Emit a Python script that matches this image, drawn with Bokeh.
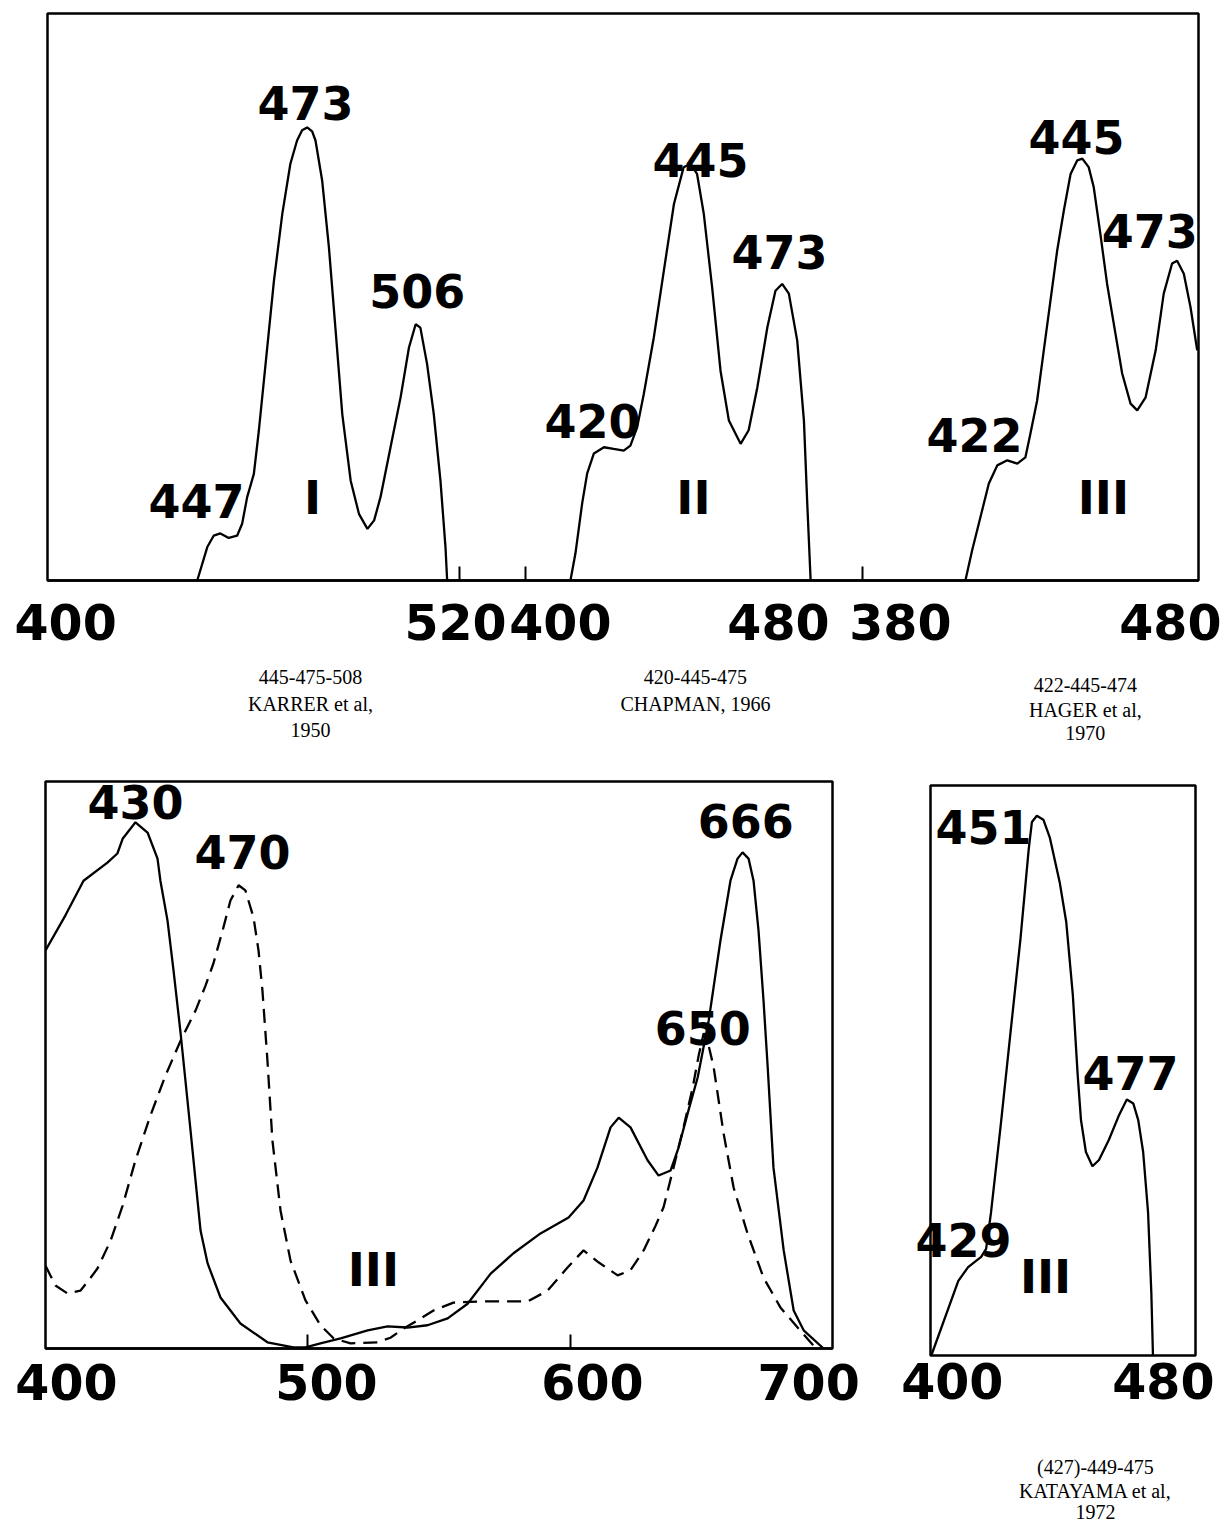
from bokeh.plotting import figure
from bokeh.models import Range1d, FixedTicker, Label, BoxAnnotation
from bokeh.layouts import column, row
from bokeh.core.properties import value
from bokeh.embed import file_html
from bokeh.resources import INLINE

# ---------------- DATA ----------------
# Top panel: three spectra (wavelength nm, relative absorbance)
s1_nm = [440.7, 443.7, 445.6, 447.6, 450.1, 452.6, 454.1, 455.6, 457.6, 459.1, 461.1, 463.6, 466.1,
         468.5, 470.5, 472.0, 473.5, 475.0, 476.0, 478.0, 480.0, 482.0, 484.0, 486.5, 489.0, 491.5,
         493.5, 495.4, 498.4, 501.4, 503.9, 505.9, 507.3, 509.3, 511.3, 513.3, 514.8, 515.3]
s1_abs = [0.000, 0.059, 0.079, 0.083, 0.075, 0.079, 0.100, 0.147, 0.188, 0.265, 0.382, 0.529, 0.647,
          0.735, 0.776, 0.794, 0.799, 0.792, 0.776, 0.705, 0.588, 0.441, 0.293, 0.176, 0.117, 0.091,
          0.106, 0.147, 0.235, 0.323, 0.411, 0.452, 0.446, 0.382, 0.294, 0.176, 0.059, 0.000]

s2_nm = [409.8, 411.3, 413.3, 414.8, 416.8, 419.8, 422.7, 425.7, 427.7, 429.7, 431.7, 434.7, 437.7,
         440.7, 443.6, 445.6, 447.6, 449.6, 452.1, 454.6, 457.1, 460.6, 463.0, 465.6, 468.6, 471.0,
         473.0, 475.0, 477.5, 479.5, 480.5, 481.5]
s2_abs = [0.000, 0.048, 0.136, 0.189, 0.224, 0.235, 0.232, 0.229, 0.238, 0.270, 0.329, 0.429, 0.547,
          0.664, 0.729, 0.735, 0.717, 0.647, 0.517, 0.370, 0.282, 0.241, 0.265, 0.341, 0.447, 0.511,
          0.523, 0.506, 0.423, 0.282, 0.135, 0.000]

s3_nm = [410.6, 412.6, 415.1, 417.6, 420.1, 423.1, 426.1, 428.5, 430.0, 432.0, 434.0, 436.0, 438.0,
         440.0, 442.0, 444.0, 445.5, 447.4, 448.9, 450.9, 452.9, 455.4, 457.4, 459.9, 461.9, 464.4,
         467.4, 469.8, 472.3, 473.8, 475.8, 477.8, 479.8]
s3_abs = [0.000, 0.053, 0.112, 0.171, 0.203, 0.212, 0.206, 0.217, 0.259, 0.317, 0.406, 0.494, 0.582,
          0.653, 0.717, 0.741, 0.744, 0.729, 0.694, 0.611, 0.523, 0.435, 0.365, 0.312, 0.300, 0.323,
          0.406, 0.506, 0.559, 0.564, 0.541, 0.482, 0.406]

top_peak_text = [["447", "473", "506", "I"], ["420", "445", "473", "II"], ["422", "445", "473", "III"]]
top_tick_labels = ["400", "520", "400", "480", "380", "480"]
top_captions = [["445-475-508", "KARRER et al,", "1950"],
                ["420-445-475", "CHAPMAN, 1966"],
                ["422-445-474", "HAGER et al,", "1970"]]

# Bottom-left panel: solid and dashed spectra
bl_solid_nm = [400.0, 407.6, 414.5, 423.6, 427.4, 429.4, 434.3, 438.9, 442.7, 443.8, 446.5, 448.8,
               451.5, 455.3, 459.1, 461.8, 466.7, 474.3, 484.6, 494.5, 499.1, 504.8, 512.5, 522.8,
               530.4, 538.0, 545.6, 553.3, 560.9, 569.7, 578.4, 588.7, 599.4, 605.1, 610.4, 615.4,
               618.5, 623.0, 629.5, 633.7, 638.3, 641.3, 645.1, 648.6, 652.8, 657.3, 661.1, 663.8,
               665.7, 668.0, 669.9, 671.8, 673.7, 675.3, 677.5, 681.4, 685.2, 689.0, 696.6]
bl_solid_abs = [0.702, 0.764, 0.825, 0.857, 0.873, 0.899, 0.928, 0.910, 0.864, 0.825, 0.755, 0.667,
                0.556, 0.384, 0.208, 0.150, 0.090, 0.044, 0.011, 0.002, 0.002, 0.009, 0.018, 0.032,
                0.039, 0.037, 0.041, 0.053, 0.079, 0.132, 0.168, 0.203, 0.231, 0.261, 0.319, 0.390,
                0.407, 0.390, 0.332, 0.305, 0.314, 0.354, 0.420, 0.478, 0.578, 0.720, 0.825, 0.864,
                0.875, 0.864, 0.825, 0.737, 0.614, 0.496, 0.319, 0.173, 0.067, 0.032, 0.000]

bl_dash_nm = [400.0, 403.8, 408.4, 413.3, 416.4, 419.8, 424.8, 429.4, 434.3, 440.0, 445.7, 451.5,
              457.2, 461.0, 464.0, 467.5, 470.5, 473.6, 476.2, 479.3, 481.2, 482.7, 484.6, 486.5,
              489.6, 493.4, 499.1, 504.8, 509.8, 516.3, 526.6, 531.5, 536.5, 543.0, 547.9, 555.5,
              565.8, 583.8, 591.4, 599.0, 605.1, 610.8, 618.1, 623.0, 628.0, 632.6, 635.6, 639.4,
              643.2, 646.7, 649.0, 650.9, 652.8, 654.7, 658.5, 662.3, 667.6, 673.7, 680.2, 686.7,
              692.8, 696.6]
bl_dash_abs = [0.146, 0.111, 0.097, 0.102, 0.120, 0.141, 0.190, 0.252, 0.332, 0.411, 0.481, 0.543,
               0.596, 0.640, 0.679, 0.737, 0.790, 0.817, 0.808, 0.760, 0.702, 0.631, 0.508, 0.367,
               0.243, 0.155, 0.085, 0.041, 0.018, 0.009, 0.011, 0.019, 0.035, 0.053, 0.067, 0.081,
               0.083, 0.083, 0.102, 0.143, 0.173, 0.152, 0.129, 0.138, 0.173, 0.217, 0.249, 0.319,
               0.390, 0.460, 0.517, 0.556, 0.534, 0.496, 0.379, 0.284, 0.203, 0.125, 0.072, 0.037,
               0.005, 0.000]
bl_peak_text = ["430", "470", "666", "650", "III"]
bl_tick_labels = ["400", "500", "600", "700"]

# Bottom-right panel
br_nm = [392.3, 402.2, 405.8, 410.6, 412.4, 414.2, 417.8, 421.4, 425.0, 428.0, 429.2, 431.0, 433.4,
         435.8, 439.4, 441.8, 444.2, 446.0, 447.2, 449.0, 451.4, 453.8, 457.4, 461.0, 464.0, 466.4,
         468.2, 470.0, 471.8, 473.0, 473.6]
br_abs = [0.000, 0.131, 0.155, 0.173, 0.187, 0.251, 0.406, 0.569, 0.731, 0.887, 0.936, 0.947, 0.940,
          0.908, 0.830, 0.760, 0.633, 0.491, 0.413, 0.357, 0.332, 0.343, 0.378, 0.420, 0.449, 0.442,
          0.413, 0.357, 0.251, 0.110, 0.000]
br_peak_text = ["451", "477", "429", "III"]
br_tick_values = [400, 480]
br_caption = ["(427)-449-475", "KATAYAMA et al,", "1972"]

# ---------------- LAYOUT / STYLE CONSTANTS ----------------
OFFSETS = [0.0, 142.3, 259.4]          # horizontal shift of spectra I, II, III on shared top axis
top_ann_pos = [[(440.5, 0.141), (473.0, 0.843), (506.4, 0.511), (475.1, 0.146)],
               [(416.4, 0.282), (448.6, 0.741), (472.2, 0.580), (446.5, 0.146)],
               [(413.3, 0.256), (443.8, 0.783), (465.6, 0.617), (451.8, 0.145)]]
top_tick_pos = [(0, 401.4), (0, 517.8), (1, 406.8), (1, 471.9), (2, 391.2), (2, 471.8)]
top_mark_pos = [(0, 519.0), (1, 396.5), (2, 380.0)]
top_caption_x = [474.5, 589.4, 705.8]
top_caption_y = [[14, 41, 67], [14, 41], [22, 47, 70]]
bl_ann_pos = [(434.3, 0.963), (475.1, 0.875), (666.9, 0.931), (650.5, 0.566), (525.0, 0.138)]
bl_tick_pos = [408.0, 507.1, 608.5, 690.9]
bl_mark_pos = [500, 600]
br_ann_pos = [(411.4, 0.928), (465.4, 0.496), (404.1, 0.202), (434.2, 0.137)]
br_caption_x = 452.5
br_caption_y = [43, 67, 88]
BR_BOX = (392.0, 489.2)                 # wavelength span of the boxed right panel
BR_PXNM = 265 / (BR_BOX[1] - BR_BOX[0])  # px per nm
BR_PADL, BR_PADR, BR_PADV = 25, 5, 5     # room outside the box for labels that overhang it

NUM_FONT = "DejaVu Sans"
NUM_SIZE = "46px"
AXIS_SIZE = "49px"
SERIF = "Liberation Serif"
LW = 2.3


def panel(fw, fh, xr, yr, bl, br, bt, bb, axis=True, outline=True):
    p = figure(frame_width=fw, frame_height=fh, x_range=xr, y_range=yr,
               output_backend="svg", toolbar_location=None,
               x_axis_location="below" if axis else None, y_axis_location=None,
               min_border_left=bl, min_border_right=br, min_border_top=bt, min_border_bottom=bb)
    p.xgrid.visible = False
    p.ygrid.visible = False
    p.background_fill_color = "white"
    p.border_fill_color = "white"
    if outline:
        p.outline_line_color = "black"
        p.outline_line_width = 2.5
    else:
        p.outline_line_color = None
    return p


def style_axis(p, ticks, labels, marks, standoff):
    ax = p.xaxis[0]
    ax.ticker = FixedTicker(ticks=ticks, minor_ticks=marks)
    ax.major_label_overrides = {t: s for t, s in zip(ticks, labels)}
    ax.major_tick_line_color = None
    ax.major_tick_in = 0
    ax.major_tick_out = 0
    ax.minor_tick_in = 14
    ax.minor_tick_out = 0
    ax.minor_tick_line_color = "black"
    ax.minor_tick_line_width = 2
    ax.axis_line_color = "black"
    ax.axis_line_width = 2.5
    ax.major_label_text_font = NUM_FONT
    ax.major_label_text_font_style = "bold"
    ax.major_label_text_font_size = AXIS_SIZE
    ax.major_label_text_color = "black"
    ax.major_label_standoff = standoff


def annotate(p, xs, ys, texts):
    for x, y, t in zip(xs, ys, texts):
        p.add_layout(Label(x=x, y=y, text=t, text_font=NUM_FONT, text_font_style="bold",
                           text_font_size=NUM_SIZE, text_align="center", text_baseline="middle",
                           text_color="black"))


# ---------------- TOP PANEL ----------------
TOP_FW, TOP_FH = 1151, 567
top_x = Range1d(396, 396 + TOP_FW / 3.35)
top = panel(TOP_FW, TOP_FH, top_x, Range1d(0, 1), 47, 24, 13, 82)

for nm, ab, off in zip([s1_nm, s2_nm, s3_nm], [s1_abs, s2_abs, s3_abs], OFFSETS):
    top.line([w + off for w in nm], ab, line_color="black", line_width=LW)

for k in range(3):
    xs = [pos[0] + OFFSETS[k] for pos in top_ann_pos[k]]
    ys = [pos[1] for pos in top_ann_pos[k]]
    annotate(top, xs, ys, top_peak_text[k])

tick_vals = [round(w + OFFSETS[k], 2) for k, w in top_tick_pos]
mark_vals = [round(w + OFFSETS[k], 2) for k, w in top_mark_pos]
style_axis(top, tick_vals, top_tick_labels, mark_vals, 23)

# caption strip under the top panel (same horizontal scale)
cap_top = panel(TOP_FW, 108, top_x, Range1d(108, 0), 47, 24, 0, 0, axis=False, outline=False)
cx, cy, ct = [], [], []
for x, ys, lines in zip(top_caption_x, top_caption_y, top_captions):
    for y, t in zip(ys, lines):
        cx.append(x); cy.append(y); ct.append(t)
cap_top.text(x=cx, y=cy, text=ct, text_font=value(SERIF), text_font_size="20px",
             text_align="center", text_baseline="middle", text_color="black")

# ---------------- BOTTOM-LEFT PANEL ----------------
bl = panel(787, 567, Range1d(400, 700), Range1d(0, 1), 45, 40, 11, 78)
bl.line(bl_solid_nm, bl_solid_abs, line_color="black", line_width=LW)
bl.line(bl_dash_nm, bl_dash_abs, line_color="black", line_width=LW, line_dash="14 8")
annotate(bl, [p[0] for p in bl_ann_pos], [p[1] for p in bl_ann_pos], bl_peak_text)
style_axis(bl, bl_tick_pos, bl_tick_labels, bl_mark_pos, 15)

# ---------------- BOTTOM-RIGHT PANEL ----------------
br_x = Range1d(BR_BOX[0] - BR_PADL / BR_PXNM, BR_BOX[1] + BR_PADR / BR_PXNM)
br_y = Range1d(-BR_PADV / 570, 1 + BR_PADV / 570)
BR_FW = 265 + BR_PADL + BR_PADR
br = panel(BR_FW, 570 + 2 * BR_PADV, br_x, br_y, 58 - BR_PADL, 19 - BR_PADR,
           15 - BR_PADV, 68 - BR_PADV, outline=False)
br.add_layout(BoxAnnotation(left=BR_BOX[0], right=BR_BOX[1], bottom=0, top=1,
                            fill_color=None, fill_alpha=0, line_color="black", line_width=2.5,
                            line_alpha=1))
br.line(br_nm, br_abs, line_color="black", line_width=LW)
annotate(br, [p[0] for p in br_ann_pos], [p[1] for p in br_ann_pos], br_peak_text)
style_axis(br, br_tick_values, [str(v) for v in br_tick_values], [], 2)
br.xaxis[0].axis_line_color = None

cap_br = panel(BR_FW, 99, br_x, Range1d(99, 0), 58 - BR_PADL, 19 - BR_PADR, 0, 0,
               axis=False, outline=False)
cap_br.text(x=[br_caption_x] * 3, y=br_caption_y, text=br_caption, text_font=value(SERIF),
            text_font_size="20px", text_align="center", text_baseline="middle", text_color="black")

layout = column(top, cap_top, row(bl, column(br, cap_br)))
open("out.html", "w").write(file_html(layout, INLINE))
